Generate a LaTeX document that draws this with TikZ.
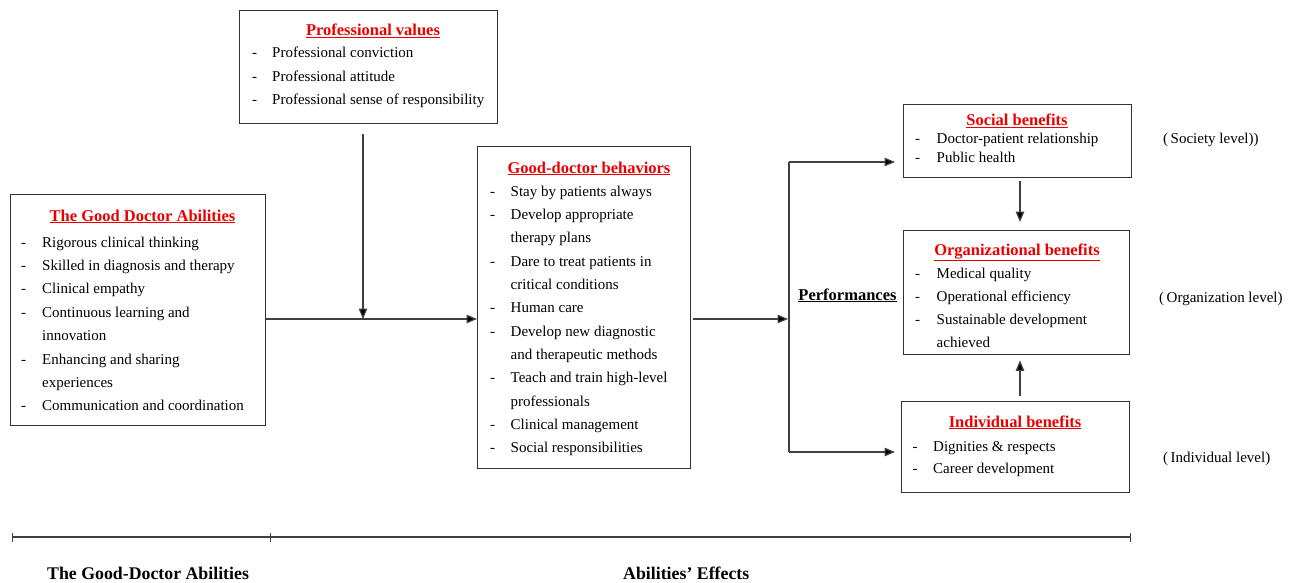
\documentclass[tikz,border=0pt]{standalone}
\usepackage{fontspec}
\setmainfont{Liberation Serif}
\usetikzlibrary{arrows.meta}
\definecolor{tred}{RGB}{235,0,0}
\tikzset{
  box/.style={draw=black!80, line width=1.4pt, anchor=north west, inner sep=0pt},
  ttl/.style={font=\fontsize{16.5}{19}\selectfont\bfseries, text=tred, anchor=base, inner sep=0pt},
  lst/.style={font=\fontsize{15}{#1}\selectfont, anchor=base west, inner sep=0pt},
  lst/.default=23.4,
  lvl/.style={font=\fontsize{15}{18}\selectfont, anchor=base west, inner sep=0pt},
  bot/.style={font=\fontsize{17.8}{21}\selectfont\bfseries, anchor=base west, inner sep=0pt},
  arr/.style={line width=1.2pt, draw=black!75, -{Triangle[length=10.5pt,width=8.5pt,fill=black]}},
  ln/.style={line width=1.2pt, draw=black!75},
}
\begin{document}
\begin{tikzpicture}[x=1pt,y=-1pt]
\useasboundingbox (0,0) rectangle (1293,583);

% boxes
\node[box, minimum width=255pt, minimum height=231pt] (abil) at (10,194) {};
\node[box, minimum width=258pt, minimum height=113pt] (pv) at (239,10) {};
\node[box, minimum width=213pt, minimum height=322pt] (beh) at (477,146) {};
\node[box, minimum width=228pt, minimum height=73pt] (soc) at (903,104) {};
\node[box, minimum width=226pt, minimum height=124pt] (org) at (903,230) {};
\node[box, minimum width=228pt, minimum height=91pt] (ind) at (901,401) {};

% titles
\node[ttl] (abilT) at (142.5,221) {\underline{The Good Doctor Abilities}};
\node[ttl] (pvT) at (373,36) {\underline{Professional values}};
\node[ttl] (behT) at (589,173) {\underline{Good-doctor behaviors}};
\node[ttl] (socT) at (1017,126) {\underline{Social benefits}};
\node[ttl] (orgT) at (1017,255) {\underline{Organizational benefits}};
\node[ttl] (indT) at (1015,427) {\underline{Individual benefits}};

% lists
\node[lst] (abilL) at (21,247) {\begin{tabular}[t]{@{}p{21pt}@{}l@{}}
- & Rigorous clinical thinking\\
- & Skilled in diagnosis and therapy\\
- & Clinical empathy\\
- & Continuous learning and\\
  & innovation\\
- & Enhancing and sharing\\
  & experiences\\
- & Communication and coordination
\end{tabular}};
\node[lst] (pvL) at (252,58) {\begin{tabular}[t]{@{}p{20pt}@{}l@{}}
- & Professional conviction\\
- & Professional attitude\\
- & Professional sense of responsibility
\end{tabular}};
\node[lst=23.36] (behL) at (490,196) {\begin{tabular}[t]{@{}p{20.5pt}@{}l@{}}
- & Stay by patients always\\
- & Develop appropriate\\
  & therapy plans\\
- & Dare to treat patients in\\
  & critical conditions\\
- & Human care\\
- & Develop new diagnostic\\
  & and therapeutic methods\\
- & Teach and train high-level\\
  & professionals\\
- & Clinical management\\
- & Social responsibilities
\end{tabular}};
\node[lst=18] (socL) at (915,144) {\begin{tabular}[t]{@{}p{21.5pt}@{}l@{}}
- & Doctor-patient relationship\\
- & Public health
\end{tabular}};
\node[lst=23.3] (orgL) at (915,278) {\begin{tabular}[t]{@{}p{21.5pt}@{}l@{}}
- & Medical quality\\
- & Operational efficiency\\
- & Sustainable development\\
  & achieved
\end{tabular}};
\node[lst=22] (indL) at (912.5,451) {\begin{tabular}[t]{@{}p{20.5pt}@{}l@{}}
- & Dignities \& respects\\
- & Career development
\end{tabular}};

% performances and level labels
\node[font=\fontsize{16.5}{19}\selectfont\bfseries, anchor=base, inner sep=0pt] (perf) at (847.5,300) {\underline{Performances}};
\node[lvl] (lsoc) at (1163,143) {(\,Society level))};
\node[lvl] (lorg) at (1159,302) {(\,Organization level)};
\node[lvl] (lind) at (1163,462) {(\,Individual level)};

% connectors
\coordinate (j) at (363,319);
\coordinate (sp) at (789,319);
\coordinate (st) at (789,162);
\coordinate (sb) at (789,452);
\coordinate (cx) at (1020,0);
\draw[ln] (abil.east |- j) -- (j);
\draw[arr] (j) -- (beh.west |- j);
\draw[arr] ([yshift=-10pt]pv.south -| j) -- (j);
\draw[arr] ([xshift=2pt]beh.east |- sp) -- ([xshift=-1pt]sp);
\draw[ln] (st) -- (sb);
\draw[arr, shorten >=8pt] (st) -- (soc.west |- st);
\draw[arr, shorten >=6pt] (sb) -- (ind.west |- sb);
\draw[arr, shorten <=3pt, shorten >=8pt] (soc.south -| cx) -- (org.north -| cx);
\draw[arr, shorten <=5pt, shorten >=5pt] (ind.north -| cx) -- (org.south -| cx);

% timeline
\coordinate (t0) at (12,537);
\coordinate (t1) at (270,537);
\coordinate (t2) at (1130,537);
\draw[line width=1.5pt, black!75] (t0) -- (t2);
\foreach \p in {t0,t1,t2} \draw[line width=0.9pt, black!75] ([yshift=4.5pt]\p) -- ([yshift=-4.5pt]\p);
\node[bot] (b1) at (47,579) {The Good-Doctor Abilities};
\node[bot] (b2) at (623,579) {Abilities’ Effects};
\end{tikzpicture}
\end{document}
